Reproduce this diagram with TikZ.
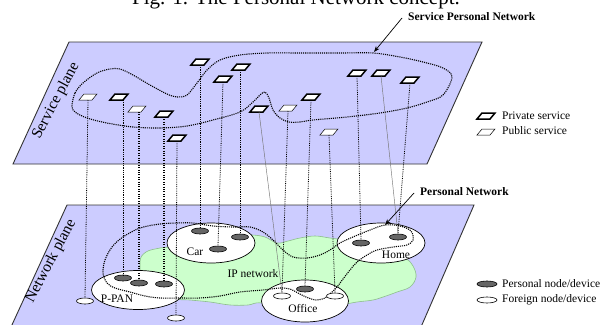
\documentclass[tikz,border=0pt]{standalone}
\usepackage{fontspec}
\setmainfont{Liberation Serif}
\usetikzlibrary{shapes.geometric,arrows.meta}
\definecolor{planeblue}{RGB}{204,204,255}
\definecolor{cloudgreen}{RGB}{204,255,204}
\definecolor{cloudedge}{RGB}{140,190,140}
\definecolor{devgray}{RGB}{102,102,102}
\newcommand\lblfont{\fontsize{11.5}{13}\selectfont}
\tikzset{
  plane/.style={fill=planeblue, draw=black!80, line width=0.9pt},
  planelbl/.style={font=\fontsize{15.5}{17}\selectfont, inner sep=0pt, rotate=62},
  site/.style={ellipse, draw=black, line width=0.7pt, fill=white, inner sep=0pt},
  dev/.style={ellipse, draw=black, line width=0.6pt, minimum width=17pt, minimum height=6pt, inner sep=0pt},
  pdev/.style={dev, fill=devgray},
  fdev/.style={dev, fill=white},
  svcspot/.style={rectangle, minimum width=13pt, minimum height=6pt, inner sep=0pt, outer sep=0pt},
  prisvc/.style={draw=black, fill=white, line width=1.5pt, line join=miter},
  pubsvc/.style={draw=black, fill=white, line width=0.5pt},
  vline/.style={black, line width=0.8pt, dash pattern=on 0.8pt off 1pt},
  vthick/.style={black, line width=1.05pt, dash pattern=on 1pt off 1.4pt},
  thinline/.style={black!55, line width=0.45pt},
  loop/.style={black, line width=1.1pt, dash pattern=on 1.1pt off 1pt},
  lbl/.style={font=\lblfont, inner sep=0pt},
  boldlbl/.style={font=\lblfont\bfseries, inner sep=0pt},
  arr/.style={-{Stealth[length=6pt,width=4.5pt]}, line width=0.7pt},
}
% service icon: name, x, y, style (a slanted parallelogram around a named node)
\newcommand\svcicon[4]{%
  \node[svcspot] (#1) at (#2,#3) {};
  \draw[#4] (#2-9,#3+3) -- (#2+4,#3+3) -- (#2+9,#3-3) -- (#2-4,#3-3) -- cycle;}
\begin{document}
\begin{tikzpicture}[x=1pt,y=-1pt]
\useasboundingbox (0,0) rectangle (602,324);

% title (cut off at the top)
\node[font=\fontsize{21}{24}\selectfont, anchor=base, inner sep=0pt] (title) at (296,4.5) {Fig. 1. The Personal Network concept.};

% ---------------- service plane ----------------
\draw[plane] (69,42) -- (482,42) -- (427,164) -- (13,164) -- cycle;
\node[planelbl] (splbl) at (56,101) {Service plane};

\draw[loop] plot[smooth cycle, tension=0.55] coordinates {
 (72,106) (75,93) (83,83) (97,73) (110,69) (120,69) (133,75) (150,85) (167,94) (177,97) (187,95)
 (197,83) (207,70) (220,60) (240,55) (267,53) (300,53) (340,53) (373,53) (400,57) (423,62)
 (443,68) (452,77) (443,95) (427,102) (407,108) (380,113) (347,117) (313,120) (300,122)
 (289,122) (280,118) (273,110) (269,98) (265,92) (260,95) (253,102) (240,112) (213,120)
 (187,126) (160,128) (133,127) (107,123) (87,118) (75,112)};

\svcicon{s1}{88}{97}{pubsvc}
\svcicon{s2}{119}{97}{prisvc}
\svcicon{s3}{137}{109}{pubsvc}
\svcicon{s4}{164}{114}{prisvc}
\svcicon{s5}{177}{138}{prisvc}
\svcicon{s6}{200}{62}{prisvc}
\svcicon{s7}{223}{79}{prisvc}
\svcicon{s8}{241}{67}{prisvc}
\svcicon{s9}{259}{109}{prisvc}
\svcicon{s10}{288}{108}{pubsvc}
\svcicon{s11}{311}{97}{prisvc}
\svcicon{s12}{329}{132}{pubsvc}
\svcicon{s13}{357}{73}{prisvc}
\svcicon{s14}{381}{73}{prisvc}
\svcicon{s15}{410}{80}{prisvc}

% ---------------- network plane ----------------
\draw[plane] (67,205) -- (474,205) -- (421,327) -- (11,327) -- cycle;
\node[planelbl] (nplbl) at (51,261) {Network plane};

\filldraw[fill=cloudgreen, draw=cloudedge, line width=0.6pt] plot[smooth cycle, tension=0.6] coordinates {
 (140,262) (146,252) (160,248) (172,246) (200,236) (240,236) (252,235) (265,237) (277,243)
 (288,241) (300,238) (315,236) (330,238) (345,240) (380,245) (405,258) (413,266) (416,277)
 (410,287) (397,292) (386,296) (373,300) (357,302) (340,305) (300,311) (262,303) (248,305)
 (230,305) (210,302) (190,300) (170,298) (145,285)};

\node[site, minimum width=93pt, minimum height=39pt] (ppan) at (138,290) {};
\node[site, minimum width=88pt, minimum height=40pt] (car) at (211,243) {};
\node[site, minimum width=87pt, minimum height=42pt] (office) at (305,301) {};
\node[site, minimum width=88pt, minimum height=40pt] (home) at (381,243) {};

\node[lbl] (ppanlbl) at (117,299) {P-PAN};
\node[lbl] (carlbl) at (195,252) {Car};
\node[lbl] (officelbl) at (303,309) {Office};
\node[lbl] (homelbl) at (396,255) {Home};
\node[lbl] (iplbl) at (253,274) {IP network};

\draw[loop] plot[smooth cycle, tension=0.55] coordinates {
 (103,273) (105,260) (112,247) (123,237) (140,228) (160,224) (177,223) (193,223) (213,226)
 (233,227) (250,227) (263,232) (273,240) (283,250) (293,257) (307,258) (320,255) (330,250)
 (340,243) (353,237) (370,230) (385,225) (400,226) (411,231) (413,240) (407,245) (393,247)
 (377,250) (367,255) (357,262) (350,270) (343,279) (337,287) (331,293) (325,298) (316,300)
 (306,297) (298,293) (290,289) (280,288) (263,290) (240,292) (220,296) (200,298) (180,298)
 (160,298) (145,296) (130,292) (115,288) (107,283)};

\node[fdev] (f1) at (85,301) {};
\node[pdev] (pp1) at (123,278) {};
\node[pdev] (pp2) at (139,283) {};
\node[pdev] (pp3) at (164,284) {};
\node[fdev] (f2) at (176,318) {};
\node[pdev] (c1) at (200,231) {};
\node[pdev] (c2) at (218,249) {};
\node[pdev] (c3) at (240,237) {};
\node[fdev] (of1) at (282,296) {};
\node[pdev] (op) at (305,289) {};
\node[fdev] (of2) at (335,296) {};
\node[pdev] (h1) at (361,243) {};
\node[pdev] (h2) at (398,237) {};

% ---------------- mapping lines ----------------
\draw[vline] (s1.south) -- (f1.north);
\draw[vline] (s2.south -| pp1.north) -- (pp1.north);
\draw[vthick] (s3.south -| pp2.north) -- (pp2.north);
\draw[vthick] (s4.south -| pp3.north) -- (pp3.north);
\draw[vline] (s5.south) -- (f2.north);
\draw[vline] (s6.south -| c1.north) -- (c1.north);
\draw[vline] (s7.south) -- (c2.north);
\draw[vline] (s8.south -| c3.north) -- (c3.north);
\draw[thinline] (s9.south) -- (of1.north);
\draw[vline] (s10.south) -- (of1.north);
\draw[vline] (s11.south) -- (op.north);
\draw[vline] (s12.south) -- (of2.north);
\draw[vline] (s13.south) -- (h1.north);
\draw[thinline] (s14.south) -- (h2.north);
\draw[vline] (s15.south) -- (h2.north);

% ---------------- callouts ----------------
\coordinate (spntip) at (374,52);
\node[boldlbl, anchor=west] (spnlbl) at (408,17) {Service Personal Network};
\draw[arr] ([xshift=-6pt,yshift=-1pt]spnlbl.west) -- (spntip);

\coordinate (pntip) at (385,225);
\node[boldlbl, anchor=west] (pnlbl) at (420,192) {Personal Network};
\draw[arr] ([xshift=-6pt,yshift=-1pt]pnlbl.west) -- (pntip);

% ---------------- legends ----------------
\svcicon{lgpri}{486}{116}{prisvc}
\node[lbl, anchor=west] (lgpritxt) at (502,116) {Private service};
\svcicon{lgpub}{486}{132}{pubsvc}
\node[lbl, anchor=west] (lgpubtxt) at (502,131) {Public service};

\node[pdev, minimum width=20pt] (lgper) at (487,284) {};
\node[lbl, anchor=west] (lgpertxt) at (502,284) {Personal node/device};
\node[fdev, minimum width=20pt] (lgfor) at (487,300) {};
\node[lbl, anchor=west] (lgfortxt) at (502,300) {Foreign node/device};
\end{tikzpicture}
\end{document}
